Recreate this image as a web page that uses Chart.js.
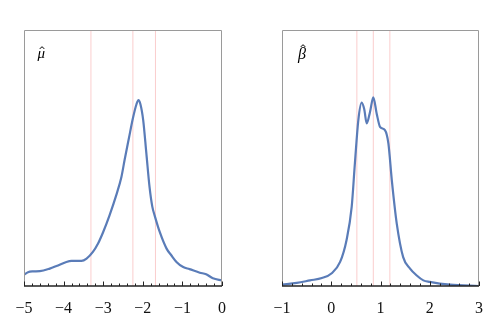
<!DOCTYPE html>
<html>
<head>
<meta charset="utf-8">
<script src="https://cdn.jsdelivr.net/npm/chart.js@4"></script>
<style>
    html, body { margin: 0; padding: 0; background: #fff; }
    .wrap { position: relative; width: 498px; height: 336px; }
    canvas { position: absolute; top: 0; }
</style>
</head>
<body>
<div class="wrap">
    <canvas id="muChart" width="250" height="336" style="left:0"></canvas>
    <canvas id="betaChart" width="248" height="336" style="left:250px"></canvas>
</div>
<script>
// ================================
// DATA
// ================================
const muX = [-5.00, -4.90, -4.77, -4.60, -4.35, -4.18, -3.93, -3.80, -3.55, -3.42, -3.26, -3.13, -3.00,
    -2.84, -2.67, -2.54, -2.46, -2.35, -2.25, -2.16, -2.11, -2.06, -1.99, -1.91, -1.83, -1.76, -1.70,
    -1.57, -1.40, -1.28, -1.15, -0.98, -0.82, -0.56, -0.40, -0.23, 0.00];
const muY = [0.044, 0.054, 0.057, 0.058, 0.068, 0.078, 0.094, 0.098, 0.098, 0.107, 0.133, 0.166, 0.211,
    0.276, 0.355, 0.426, 0.492, 0.578, 0.655, 0.710, 0.726, 0.710, 0.648, 0.518, 0.387, 0.310, 0.275,
    0.210, 0.146, 0.120, 0.094, 0.074, 0.066, 0.052, 0.046, 0.030, 0.022];
const muLines = [-3.31, -2.25, -1.68];
const muTicks = [-5, -4, -3, -2, -1, 0];

const betaX = [-1.00, -0.70, -0.43, -0.19, 0.01, 0.18, 0.31, 0.415, 0.48, 0.55, 0.618, 0.67, 0.72,
    0.787, 0.854, 0.922, 0.99, 1.09, 1.16, 1.23, 1.33, 1.46, 1.60, 1.73, 1.87, 2.00, 2.41, 3.00];
const betaY = [0.005, 0.012, 0.022, 0.031, 0.050, 0.094, 0.179, 0.309, 0.479, 0.648, 0.716, 0.690, 0.635,
    0.680, 0.737, 0.674, 0.622, 0.609, 0.557, 0.413, 0.244, 0.113, 0.068, 0.042, 0.022, 0.016, 0.005, 0.000];
const betaLines = [0.52, 0.854, 1.19];
const betaTicks = [-1, 0, 1, 2, 3];

const minorStep = 0.2;

// ================================
// FRAME + INWARD TICKS + LABEL PLUGIN
// ================================
const framePlugin = {
    id: "frame",
    afterDraw(chart, args, opts) {
        const ctx = chart.ctx;
        const a = chart.chartArea;
        const xs = chart.scales.x;

        ctx.save();
        ctx.strokeStyle = "#9a9a9a";
        ctx.lineWidth = 1;
        ctx.beginPath();
        ctx.moveTo(a.left + 0.5, a.bottom);
        ctx.lineTo(a.left + 0.5, a.top + 0.5);
        ctx.lineTo(a.right - 0.5, a.top + 0.5);
        ctx.lineTo(a.right - 0.5, a.bottom);
        ctx.stroke();

        // bottom axis
        ctx.strokeStyle = "#222";
        ctx.lineWidth = 1.3;
        ctx.beginPath();
        ctx.moveTo(a.left, a.bottom);
        ctx.lineTo(a.right, a.bottom);
        ctx.stroke();

        // ticks pointing up
        ctx.lineWidth = 1;
        const n = Math.round((xs.max - xs.min) / minorStep);
        for (let i = 0; i <= n; i++) {
            const v = xs.min + i * minorStep;
            const major = opts.majors.some(m => Math.abs(m - v) < 1e-6);
            const px = Math.round(xs.getPixelForValue(v)) + 0.5;
            const len = major ? 4.5 : 2.5;
            ctx.beginPath();
            ctx.moveTo(px, a.bottom);
            ctx.lineTo(px, a.bottom - len);
            ctx.stroke();
        }

        // panel label with hat
        ctx.fillStyle = "#000";
        ctx.textBaseline = "alphabetic";
        ctx.font = "italic " + opts.size + "px 'Liberation Serif', serif";
        ctx.fillText(opts.label, opts.labelX, opts.labelY);
        const w = ctx.measureText(opts.label).width;
        ctx.font = "9px 'DejaVu Sans', sans-serif";
        ctx.textAlign = "center";
        ctx.fillText("^", opts.labelX + w / 2 + opts.hatShift, opts.hatY);
        ctx.restore();
    }
};

// ================================
// BUILD ONE PANEL
// ================================
function buildPanel(canvasId, xs, ys, lines, ticks, pad, label) {
    const curve = xs.map((x, i) => ({ x: x, y: ys[i] }));

    const datasets = [{
        data: curve,
        borderColor: "#5a7cb8",
        borderWidth: 2.2,
        pointRadius: 0,
        cubicInterpolationMode: "monotone",
        fill: false
    }];

    lines.forEach(v => {
        datasets.push({
            data: [{ x: v, y: 0 }, { x: v, y: 1 }],
            borderColor: "rgba(250, 200, 200, 0.9)",
            borderWidth: 1,
            pointRadius: 0
        });
    });

    return new Chart(document.getElementById(canvasId).getContext("2d"), {
        type: "line",
        data: { datasets: datasets },
        options: {
            responsive: false,
            animation: false,
            devicePixelRatio: 1,
            layout: { padding: pad },
            plugins: {
                legend: { display: false },
                tooltip: { enabled: false },
                frame: Object.assign({ majors: ticks }, label)
            },
            scales: {
                x: {
                    type: "linear",
                    min: ticks[0],
                    max: ticks[ticks.length - 1],
                    afterBuildTicks: scale => {
                        scale.ticks = ticks.map(v => ({ value: v }));
                    },
                    afterFit: scale => {
                        scale.height = 40;
                        scale.paddingLeft = 0;
                        scale.paddingRight = 0;
                    },
                    grid: { display: false },
                    border: { display: false },
                    ticks: {
                        padding: 5,
                        color: "#111",
                        font: { family: "'Liberation Serif', serif", size: 16 },
                        callback: v => (v < 0 ? "\u2212" + Math.abs(v) : String(v))
                    }
                },
                y: {
                    display: false,
                    min: 0,
                    max: 1
                }
            }
        },
        plugins: [framePlugin]
    });
}

document.addEventListener("DOMContentLoaded", () => {
    buildPanel("muChart", muX, muY, muLines, muTicks,
        { left: 24, right: 28, top: 30, bottom: 10 },
        { label: "μ", size: 15, labelX: 37.5, labelY: 58, hatY: 53, hatShift: 0.8 });
    buildPanel("betaChart", betaX, betaY, betaLines, betaTicks,
        { left: 32, right: 19, top: 30, bottom: 10 },
        { label: "β", size: 16, labelX: 48, labelY: 59, hatY: 51, hatShift: 1 });
});
</script>
</body>
</html>
